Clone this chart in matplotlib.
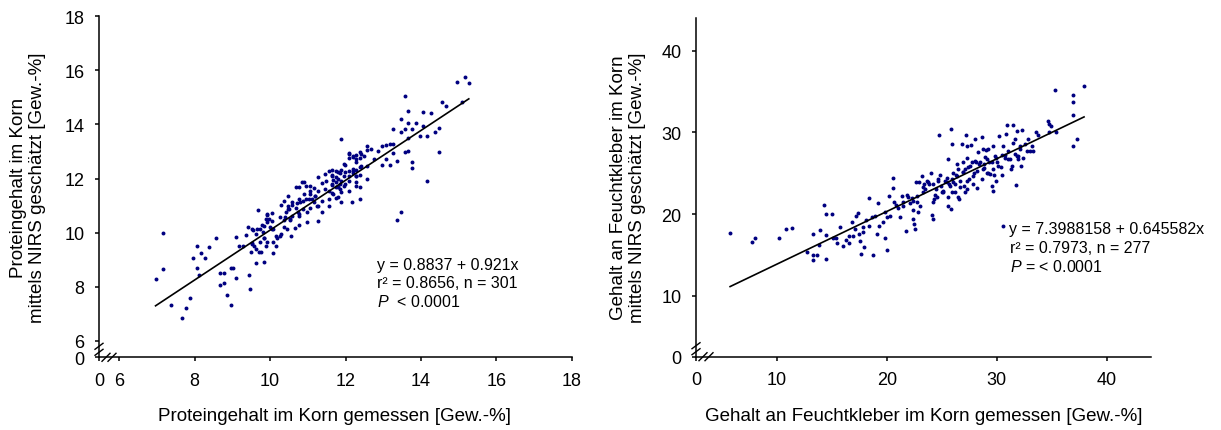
import numpy as np
import matplotlib.pyplot as plt

plt.rcParams['font.family'] = ['Liberation Sans', 'DejaVu Sans']
plt.rcParams['mathtext.fontset'] = 'custom'
plt.rcParams['mathtext.rm'] = 'Liberation Sans'
plt.rcParams['mathtext.it'] = 'Liberation Sans:italic'

# Protein content: measured (x) vs. NIRS estimate (y)
protein_x = [6.96,7.17,7.17,7.37,7.67,7.78,7.87,7.96,8.07,8.07,
             8.17,8.27,8.37,8.56,8.11,8.67,8.78,8.67,8.78,8.85,
             8.95,9.01,8.97,9.09,9.09,9.17,9.28,9.37,9.42,9.43,
             9.47,9.49,9.53,9.55,9.58,9.62,9.66,9.68,9.71,9.76,
             9.78,9.81,9.83,9.85,9.88,9.90,9.93,9.93,9.97,10.00,
             10.06,10.07,10.07,10.07,10.16,10.16,10.27,10.27,10.28,10.36,
             10.37,10.41,10.46,10.47,10.47,10.51,10.53,10.56,10.57,10.59,
             10.67,10.68,10.70,10.75,10.77,10.77,10.77,10.77,10.85,10.86,
             10.88,10.95,10.95,10.97,10.99,11.06,11.06,11.06,11.10,11.16,
             11.16,11.19,11.27,11.27,11.27,11.28,11.37,11.37,11.38,11.46,
             11.46,11.48,11.57,11.57,11.57,11.57,11.65,11.65,11.66,11.68,
             11.79,11.79,11.79,11.80,11.89,11.89,11.89,11.89,11.89,11.99,
             11.99,11.99,12.09,12.09,12.09,12.17,12.20,12.20,12.29,12.29,
             12.29,12.40,12.40,12.39,12.39,12.48,12.57,12.57,12.58,12.67,
             12.76,12.87,12.97,12.97,13.07,13.07,13.17,13.17,13.27,13.27,
             13.27,13.37,13.37,13.47,13.47,13.47,13.57,13.57,13.57,13.67,
             13.67,13.67,13.67,13.76,13.76,13.76,13.87,13.97,14.06,14.06,
             14.17,14.17,14.27,14.37,14.47,14.47,14.57,14.67,14.97,15.08,
             15.17,15.27,
             11.64,11.64,11.64,11.64,11.76,11.76,11.76,11.76,11.76,11.86,
             11.86,11.86,11.97,11.97,11.97,12.08,12.08,12.08,12.08,12.20,
             12.20,12.20,12.29,12.29,12.29,12.29,12.29,12.39,12.39,12.39,
             12.39,12.57,
             9.52,9.52,9.63,9.63,9.74,9.74,9.83,9.83,9.93,9.93,
             10.06,10.06,10.18,10.29,10.36,10.40,10.47,10.52,10.58,10.69,
             10.76,10.80,10.89,10.91,11.02,11.07,11.20,11.24]
protein_y = [8.27,9.97,8.65,7.34,6.84,7.22,7.59,9.08,9.50,8.68,
             9.23,9.07,9.48,9.79,8.43,8.52,8.52,8.06,8.13,7.70,
             8.71,8.71,7.33,8.31,9.85,9.51,9.51,9.93,10.19,8.42,
             7.92,9.29,9.59,10.11,9.51,8.86,10.13,10.83,9.30,9.30,
             10.29,10.01,8.93,9.79,10.50,9.49,10.66,9.64,10.50,10.19,
             10.71,10.13,9.64,9.24,9.51,9.88,10.56,9.86,11.02,11.17,
             10.46,10.75,10.13,11.34,11.00,10.87,10.48,9.86,11.02,10.62,
             10.16,11.67,11.09,10.75,11.67,11.24,10.62,10.28,11.88,11.18,
             10.87,11.73,11.24,10.38,10.75,11.73,11.43,10.90,11.24,11.64,
             11.12,11.36,12.04,11.55,11.00,10.44,11.83,11.18,10.77,12.16,
             11.61,11.92,12.29,11.55,11.24,10.97,12.10,11.80,11.94,11.43,
             12.23,11.98,11.70,11.33,13.46,12.33,11.92,11.49,11.12,12.51,
             12.23,11.80,12.89,12.75,11.55,11.12,12.29,12.85,12.72,12.10,
             11.73,12.91,12.47,11.67,11.24,12.85,13.21,12.47,11.98,13.09,
             12.72,13.03,13.21,12.51,13.24,12.72,13.28,12.51,13.28,13.83,
             12.93,12.66,10.45,10.75,14.20,13.71,15.04,13.83,12.97,14.50,
             14.05,13.49,13.03,13.83,12.60,12.38,14.05,13.58,14.47,13.95,
             13.58,11.92,14.42,13.71,13.86,12.99,14.82,14.67,15.56,14.84,
             15.77,15.52,
             12.32,12.13,11.76,11.46,12.29,12.04,11.86,11.67,11.28,12.20,
             11.79,11.61,12.54,12.08,11.73,12.94,12.29,12.10,11.92,12.78,
             12.35,12.20,12.87,12.60,12.32,12.08,11.88,12.97,12.75,12.41,
             12.13,13.07,
             10.13,9.61,9.95,9.39,10.13,9.64,10.25,9.79,10.69,10.40,
             10.44,10.13,9.79,9.95,10.20,10.56,10.87,10.50,11.12,10.90,
             10.69,11.12,11.86,11.43,11.24,11.55,11.36,10.99]

# Wet gluten content: measured (x) vs. NIRS estimate (y)
gluten_x = [5.76,7.73,8.03,10.21,10.85,11.36,12.73,13.33,13.33,13.33,
            13.64,13.82,13.94,14.33,14.45,14.45,14.45,15.06,15.09,15.36,
            15.45,15.76,16.06,16.27,16.58,16.61,16.82,16.91,17.12,17.21,
            17.42,17.48,17.58,17.67,17.82,17.88,17.97,18.12,18.42,18.42,
            18.64,18.73,18.94,19.09,19.24,19.33,19.70,19.85,19.85,20.00,
            20.06,20.21,20.30,20.55,20.61,20.67,20.85,21.06,21.21,21.36,
            21.52,21.76,21.82,22.12,22.27,22.36,22.42,22.48,22.58,22.64,
            22.73,22.88,22.97,23.18,23.27,23.39,23.48,23.64,23.88,24.00,
            24.15,24.24,24.24,24.33,24.39,24.48,24.61,24.70,24.79,24.85,
            24.94,25.00,25.15,25.30,25.45,25.55,25.61,25.70,25.82,25.85,
            25.91,26.00,26.06,26.21,26.30,26.36,26.52,26.61,26.67,26.82,
            26.91,26.97,27.03,27.12,27.18,27.27,27.33,27.42,27.52,27.64,
            27.73,27.88,27.97,28.03,28.12,28.24,28.33,28.42,28.64,28.73,
            28.79,28.85,28.94,29.03,29.09,29.24,29.33,29.39,29.55,29.64,
            29.70,29.76,29.85,29.94,30.06,30.24,30.36,30.45,30.55,30.61,
            30.76,30.85,30.97,31.06,31.21,31.30,31.45,31.52,31.67,31.76,
            31.82,31.88,31.97,32.12,32.18,32.27,32.42,32.58,32.73,32.88,
            33.03,33.18,33.33,33.58,33.79,34.70,34.79,34.91,34.79,35.30,
            35.39,36.91,36.91,36.97,36.97,37.27,37.94,
            23.33,23.78,24.24,24.69,25.15,25.45,25.76,25.91,26.21,26.36,
            26.67,26.91,27.12,27.33,27.58,27.82,28.03,28.18,28.48,28.64,
            28.85,29.09,29.24,29.55,29.70,29.94,30.15,30.45,30.76,31.06,
            31.36,31.67,31.97,32.12,22.42,22.73,23.03,21.97,21.52,25.61,
            25.91,26.52,27.27]
gluten_y = [17.63,16.53,17.02,17.06,18.16,18.24,15.31,17.51,14.98,14.41,
            14.98,16.20,18.00,21.10,20.00,17.47,14.49,20.00,17.02,17.02,
            16.41,18.45,16.04,16.86,17.35,16.41,19.06,17.27,18.16,19.80,
            20.12,17.55,16.73,15.10,18.37,17.76,15.92,19.31,18.57,22.00,
            19.59,14.98,19.80,17.55,21.31,18.49,18.98,20.29,17.02,19.59,
            15.59,22.16,19.80,23.14,24.41,21.51,21.10,20.69,19.59,22.16,
            21.51,17.88,22.33,21.35,21.92,20.53,19.39,18.78,18.16,23.88,
            21.51,20.20,23.88,24.61,22.73,23.67,23.06,24.08,23.67,25.02,
            19.88,19.39,21.43,21.84,22.33,23.06,22.04,24.08,29.67,24.78,
            23.47,22.73,22.86,24.08,24.37,20.94,26.73,23.67,20.61,30.41,
            28.57,25.06,23.88,22.73,24.78,26.12,25.51,21.84,24.08,28.57,
            26.33,25.10,23.39,22.73,29.67,28.37,26.82,25.71,24.29,28.45,
            26.33,23.67,24.98,29.18,26.33,23.14,27.55,26.12,29.39,27.96,
            25.51,26.12,26.94,27.88,25.06,27.96,26.33,24.90,23.47,22.86,
            28.29,24.78,27.14,24.08,26.33,29.59,25.71,27.22,28.37,18.57,
            26.82,29.80,30.90,27.76,26.73,25.51,28.69,30.90,29.18,23.55,
            27.14,30.20,26.73,28.37,25.92,30.33,26.82,28.57,27.76,29.18,
            27.76,28.29,27.76,30.00,29.67,31.43,31.02,30.73,30.00,35.22,
            30.00,34.57,33.67,32.12,28.37,29.18,35.71,
            23.27,23.89,23.68,24.29,22.74,23.89,23.47,24.29,23.68,24.62,
            23.27,25.11,25.51,24.08,25.92,24.70,26.53,25.31,26.33,24.29,
            25.60,26.74,25.03,26.33,25.51,26.82,25.92,24.78,27.23,26.74,
            25.92,27.35,27.07,27.96,21.63,22.24,21.02,22.05,21.02,22.05,
            22.66,22.05,23.07]

# regression coefficients (intercept, slope)
protein_fit = (0.8837, 0.921)
gluten_fit = (7.3988158, 0.645582)

protein_xticks = [6, 8, 10, 12, 14, 16, 18]
protein_yticks = [6, 8, 10, 12, 14, 16, 18]
gluten_xticks = [10, 20, 30, 40]
gluten_yticks = [10, 20, 30, 40]

W, H = 1221, 431
fig = plt.figure(figsize=(W / 100, H / 100), dpi=100)
ax1 = fig.add_axes([99 / W, 1 - 358.3 / H, 472.7 / W, 341.0 / H])
ax2 = fig.add_axes([696 / W, 1 - 357.7 / H, 454.7 / W, 338.4 / H])

dot_color = '#000080'


def style_axis(ax, xlim, ylim, xticks, yticks):
    ax.set_xlim(xlim)
    ax.set_ylim(ylim)
    for s in ['top', 'right']:
        ax.spines[s].set_visible(False)
    for s in ['left', 'bottom']:
        ax.spines[s].set_linewidth(1.1)
    # the broken axes start with a "0" label at the corner
    ax.set_xticks([xlim[0]] + xticks)
    ax.set_xticklabels(['0'] + [str(t) for t in xticks])
    ax.set_yticks([ylim[0]] + yticks)
    ax.set_yticklabels(['0'] + [str(t) for t in yticks])
    ax.tick_params(direction='out', length=3, width=1.1, labelsize=13, pad=7.5)

    # break marks on both axes near the origin
    pos = ax.get_position()
    w = pos.width * W
    h = pos.height * H
    kw = dict(color='black', lw=1.0, transform=ax.transAxes, clip_on=False)
    for off in (5, 11):
        ax.plot([-4 / w, 4 / w], [(off - 3) / h, (off + 3) / h], **kw)
        ax.plot([(off + 2 - 4) / w, (off + 2 + 4) / w], [-4 / h, 4 / h], **kw)


# left panel: protein
style_axis(ax1, (5.46, 18.0), (5.39, 18.0), protein_xticks, protein_yticks)
ax1.scatter(protein_x, protein_y, s=8, color=dot_color, linewidths=0, zorder=3)
xl = np.array([min(protein_x), max(protein_x)])
ax1.plot(xl, protein_fit[0] + protein_fit[1] * xl, color='black', lw=1.2, zorder=4)
ax1.text(12.84, 8.84, 'y = 0.8837 + 0.921x', fontsize=11.5, va='center')
ax1.text(12.84, 8.17, 'r\u00b2 = 0.8656, n = 301', fontsize=11.5, va='center')
ax1.text(12.84, 7.48, r'$P$  < 0.0001', fontsize=11.5, va='center')

# right panel: wet gluten
style_axis(ax2, (2.66, 44.0), (2.53, 43.97), gluten_xticks, gluten_yticks)
ax2.scatter(gluten_x, gluten_y, s=8, color=dot_color, linewidths=0, zorder=3)
xr = np.array([min(gluten_x), max(gluten_x)])
ax2.plot(xr, gluten_fit[0] + gluten_fit[1] * xr, color='black', lw=1.2, zorder=4)
ax2.text(31.15, 18.17, 'y = 7.3988158 + 0.645582x', fontsize=11.5, va='center', clip_on=False)
ax2.text(31.2, 15.93, 'r\u00b2 = 0.7973, n = 277', fontsize=11.5, va='center')
ax2.text(31.2, 13.67, r'$P$ = < 0.0001', fontsize=11.5, va='center')

# axis titles
fig.text(335 / W, 1 - 421 / H, 'Proteingehalt im Korn gemessen [Gew.-%]',
         fontsize=13.5, ha='center', va='baseline')
fig.text(923.5 / W, 1 - 421 / H, 'Gehalt an Feuchtkleber im Korn gemessen [Gew.-%]',
         fontsize=13.5, ha='center', va='baseline')
fig.text(28 / W, 1 - 188 / H, 'Proteingehalt im Korn\nmittels NIRS geschätzt [Gew.-%]',
         fontsize=13.5, rotation=90, ha='center', va='center', multialignment='center',
         linespacing=1.1)
fig.text(628 / W, 1 - 188 / H, 'Gehalt an Feuchtkleber im Korn\nmittels NIRS geschätzt [Gew.-%]',
         fontsize=13.5, rotation=90, ha='center', va='center', multialignment='center',
         linespacing=1.1)

plt.savefig('out.png', dpi=100)
